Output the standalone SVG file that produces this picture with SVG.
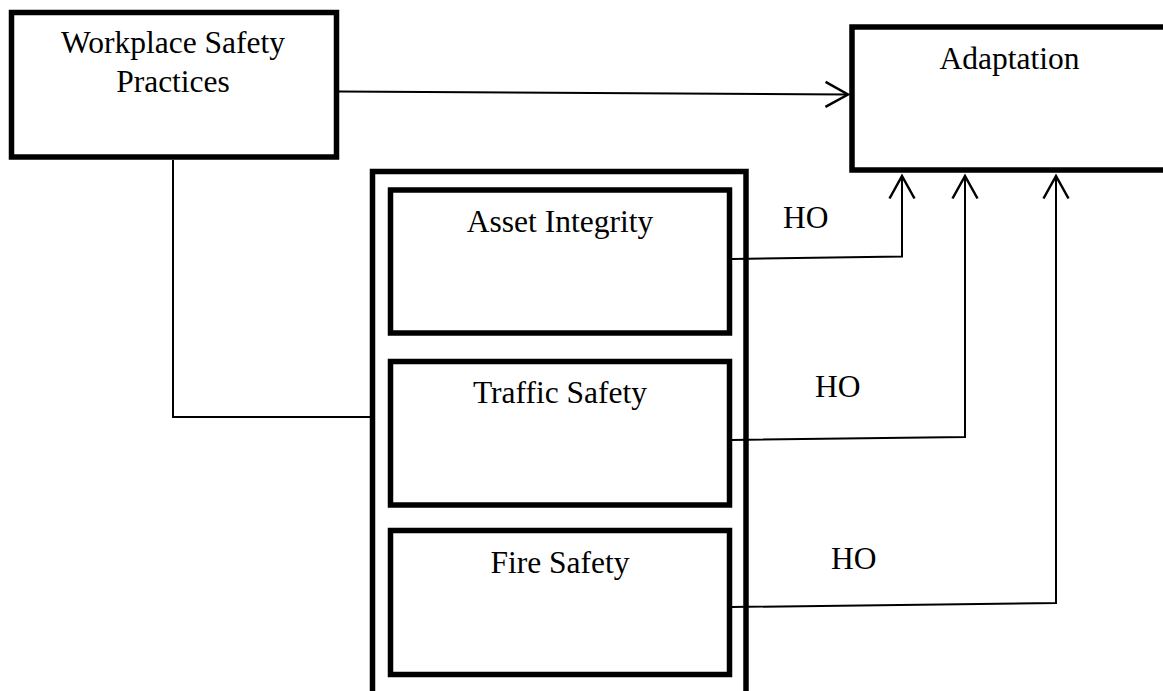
<svg xmlns="http://www.w3.org/2000/svg" width="1163" height="691" viewBox="0 0 1163 691">
<style>
.box{fill:#fff;stroke:#000;stroke-width:5.5}
.lbl{font-family:"Liberation Serif","Times New Roman",serif;font-size:31.5px;fill:#000}
.c{fill:none;stroke:#000;stroke-width:2}
</style>
<defs>
<marker id="arr" markerUnits="userSpaceOnUse" markerWidth="30" markerHeight="30" refX="0" refY="0" viewBox="-20 -12 22 24" orient="auto" overflow="visible">
<path d="M-18,-10 L0,0 L-18,10" fill="none" stroke="#000" stroke-width="2"/>
</marker>
</defs>
<rect width="1163" height="691" fill="#fff"/>
<g id="workplace">
<rect class="box" x="11.5" y="12.5" width="325" height="144.5"/>
<text class="lbl" x="173" y="53" text-anchor="middle">Workplace Safety</text>
<text class="lbl" x="173" y="92" text-anchor="middle">Practices</text>
</g>
<g id="adaptation">
<rect class="box" x="852" y="27" width="340" height="143"/>
<text class="lbl" x="1009.5" y="69" text-anchor="middle">Adaptation</text>
</g>
<g id="container">
<rect class="box" x="372.5" y="171.5" width="373.5" height="540"/>
</g>
<g id="asset">
<rect class="box" x="390.5" y="190" width="339" height="143"/>
<text class="lbl" x="560" y="231.5" text-anchor="middle">Asset Integrity</text>
</g>
<g id="traffic">
<rect class="box" x="390.5" y="361.5" width="339" height="143.5"/>
<text class="lbl" x="560" y="402.5" text-anchor="middle">Traffic Safety</text>
</g>
<g id="fire">
<rect class="box" x="390.5" y="530.5" width="339" height="144"/>
<text class="lbl" x="560" y="572.5" text-anchor="middle">Fire Safety</text>
</g>
<g id="connectors">
<path class="c" d="M173 160 V417 H370"/>
<path class="c" d="M339 91.5 L848 94.5" marker-end="url(#arr)"/>
<path class="c" d="M732 259 L902 256.5 L902 176" marker-end="url(#arr)"/>
<path class="c" d="M732 440 L965 437 L965 176" marker-end="url(#arr)"/>
<path class="c" d="M732 607 L1056 603 L1056 176" marker-end="url(#arr)"/>
</g>
<g id="labels">
<text class="lbl" x="783" y="228">HO</text>
<text class="lbl" x="815" y="397">HO</text>
<text class="lbl" x="831" y="569">HO</text>
</g>
</svg>
